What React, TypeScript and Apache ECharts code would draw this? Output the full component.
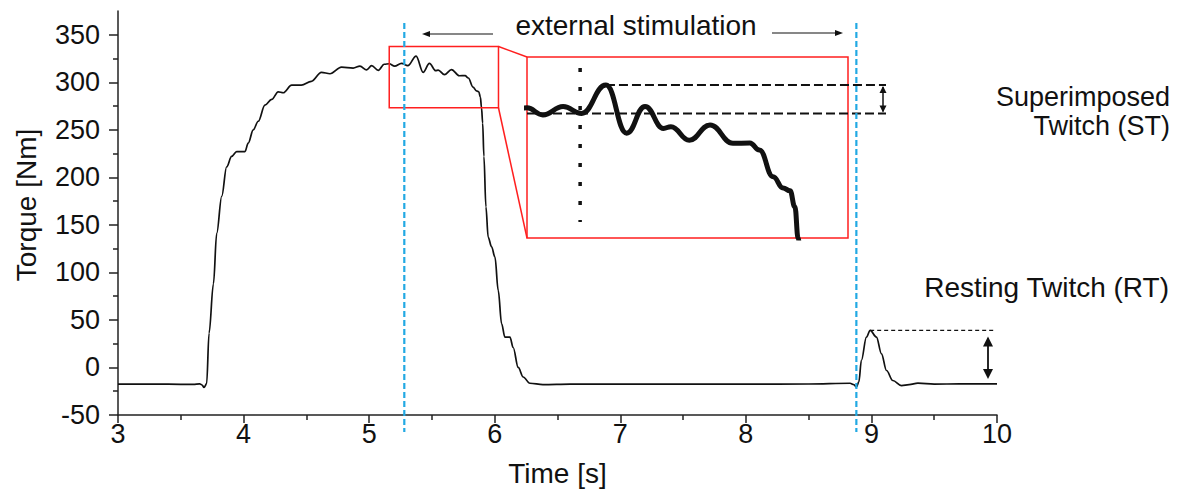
import React, { useEffect, useRef } from 'react';
import * as echarts from 'echarts';

// ---- data ----
const timeS = [
  3.0, 3.2, 3.4, 3.6, 3.65, 3.67, 3.685, 3.706, 3.725, 3.76, 3.786, 3.826, 3.865, 3.905, 3.945,
  4.011, 4.037, 4.077, 4.117, 4.17, 4.224, 4.276, 4.316, 4.383, 4.46, 4.54, 4.62, 4.688, 4.78,
  4.873, 4.927, 4.98, 5.02, 5.073, 5.12, 5.16, 5.203, 5.258, 5.308, 5.374, 5.43, 5.48, 5.53,
  5.55, 5.6, 5.656, 5.718, 5.764, 5.79, 5.827, 5.854, 5.873, 5.886, 5.895, 5.904, 5.914, 5.93,
  5.948, 5.975, 6.002, 6.028, 6.055, 6.081, 6.121, 6.147, 6.187, 6.227, 6.28, 6.384, 6.6, 7.0,
  7.5, 8.0, 8.5, 8.83, 8.86, 8.88, 8.9, 8.92, 8.96, 8.99, 9.04, 9.08, 9.12, 9.17, 9.24, 9.3,
  9.37, 9.5, 9.7, 10.0,
];
const torqueNm = [
  -17.5, -17.6, -17.6, -17.8, -17.2, -18.5, -21, -17, 36, 88, 141, 180, 211, 222, 227,
  227, 236, 250, 259, 276, 282, 290, 289, 297, 297, 301, 310.5, 309, 316,
  315, 317, 313, 317.5, 312.5, 319, 319.5, 317, 320, 317.5, 327.6, 310.5, 320, 312.2,
  312.8, 308, 313.4, 306.9, 307, 304.5, 295, 291, 290, 284.3, 273, 257, 222, 169,
  137, 127, 116, 81, 46, 32, 32, 21, 0, -10, -16.6, -18, -17.5, -17.5,
  -17.6, -17.5, -17.4, -16.6, -18, -20.8, -15, 7.4, 32, 39, 32, 14.4, -3.2, -13.7, -19, -18,
  -16.5, -17.5, -17.3, -17.3,
];
const yMajorTicks = [-50, 0, 50, 100, 150, 200, 250, 300, 350];
const yMinorTicks = [-25, 25, 75, 125, 175, 225, 275, 325];
const stimulationTimes = [5.28, 8.88];
const zoomTime = [5.16, 6.03];
const zoomTorque = [273.2, 337.6];
const stPeak = [5.374, 327.6];
const stBase = [5.308, 317.5];
const rtPeak = [8.99, 39];
const rtBase = -17.3;
const insetMarkerTime = 5.304;
const insetMarkerRange = [278.9, 333.7];

const INK = '#111';
const RED = '#ff1f1f';
const BLUE = '#22a9e3';
const FONT = 'Liberation Sans, Arial, sans-serif';

function arrowHead(tipX: number, tipY: number, dx: number, dy: number, len: number, half: number) {
  const bx = tipX - dx * len;
  const by = tipY - dy * len;
  const px = -dy, py = dx;
  return {
    type: 'polygon',
    shape: { points: [[tipX, tipY], [bx + px * half, by + py * half], [bx - px * half, by - py * half]] },
    style: { fill: INK },
    z: 20,
  };
}

export default function App() {
  const ref = useRef<HTMLDivElement>(null);
  useEffect(() => {
    if (!ref.current) return;
    const chart = echarts.init(ref.current, null, { renderer: 'svg' });
    const data = timeS.map((t, i) => [t, torqueNm[i]]);
    const axisLine = { show: true, lineStyle: { color: '#222', width: 1.5 } };
    chart.setOption({
      animation: false,
      textStyle: { fontFamily: FONT },
      grid: [
        { left: 118, right: 181, top: 11, bottom: 78, show: false },
        { left: 527, top: 57, width: 321, height: 181, show: true, borderColor: RED, borderWidth: 1.5, backgroundColor: '#fff', z: 5 },
      ],
      xAxis: [
        {
          gridIndex: 0, type: 'value', min: 3, max: 10, interval: 1,
          axisLine: { ...axisLine, onZero: false },
          axisTick: { show: true, inside: false, length: 8, lineStyle: { color: '#222', width: 1.5 } },
          minorTick: { show: true, splitNumber: 2, length: 5, lineStyle: { color: '#222', width: 1.5 } },
          splitLine: { show: false },
          axisLabel: { fontSize: 27, color: INK, margin: 5, fontFamily: FONT },
          name: 'Time [s]', nameLocation: 'middle', nameGap: 44,
          nameTextStyle: { fontSize: 28, color: INK, fontFamily: FONT },
        },
        {
          gridIndex: 1, type: 'value', min: zoomTime[0], max: zoomTime[1], show: false,
          splitLine: { show: false },
        },
      ],
      yAxis: [
        {
          gridIndex: 0, type: 'value', min: -50, max: 375,
          axisLine: { ...axisLine, onZero: false },
          axisTick: { show: true, length: 9, customValues: yMajorTicks, lineStyle: { color: '#222', width: 1.5 } },
          axisLabel: { fontSize: 27, color: INK, margin: 18, customValues: yMajorTicks, fontFamily: FONT },
          splitLine: { show: false },
          name: 'Torque [Nm]', nameLocation: 'middle', nameGap: 78,
          nameTextStyle: { fontSize: 28, color: INK, fontFamily: FONT, padding: [0, 0, 0, 16] },
        },
        {
          gridIndex: 0, type: 'value', min: -50, max: 375, position: 'left',
          axisLine: { show: false },
          axisTick: { show: true, length: 5, customValues: yMinorTicks, lineStyle: { color: '#222', width: 1.5 } },
          axisLabel: { show: false },
          splitLine: { show: false },
        },
        {
          gridIndex: 1, type: 'value', min: zoomTorque[0], max: zoomTorque[1], show: false,
          splitLine: { show: false },
        },
      ],
      series: [
        {
          type: 'line', xAxisIndex: 0, yAxisIndex: 0, data, showSymbol: false,
          smooth: 0.35, smoothMonotone: 'x',
          lineStyle: { color: INK, width: 1.7 }, z: 3,
        },
        {
          type: 'line', xAxisIndex: 1, yAxisIndex: 2, data, showSymbol: false, clip: true,
          smooth: 0.45, smoothMonotone: 'x',
          lineStyle: { color: INK, width: 5 }, z: 6,
        },
      ],
    });

    const p = (x: number, y: number) => chart.convertToPixel({ xAxisIndex: 0, yAxisIndex: 0 }, [x, y]) as number[];
    const q = (x: number, y: number) => chart.convertToPixel({ xAxisIndex: 1, yAxisIndex: 2 }, [x, y]) as number[];

    const g: any[] = [];
    stimulationTimes.forEach((t) => {
      const x = p(t, 0)[0];
      g.push({ type: 'line', shape: { x1: x, y1: 23, x2: x, y2: 432 }, style: { stroke: BLUE, lineWidth: 2.2, lineDash: [6, 3] }, z: 30 });
    });
    const a = p(zoomTime[0], zoomTorque[1]);
    const b = p(zoomTime[1], zoomTorque[0]);
    g.push({ type: 'rect', shape: { x: a[0], y: a[1], width: b[0] - a[0], height: b[1] - a[1] }, style: { fill: 'none', stroke: RED, lineWidth: 1.5 }, z: 25 });
    const ia = q(zoomTime[0], zoomTorque[1]);
    const ib = q(zoomTime[0], zoomTorque[0]);
    g.push({ type: 'line', shape: { x1: b[0], y1: a[1], x2: ia[0], y2: ia[1] }, style: { stroke: RED, lineWidth: 1.5 }, z: 25 });
    g.push({ type: 'line', shape: { x1: b[0], y1: b[1], x2: ib[0], y2: ib[1] }, style: { stroke: RED, lineWidth: 1.5 }, z: 25 });
    const m1 = q(insetMarkerTime, insetMarkerRange[1]);
    const m2 = q(insetMarkerTime, insetMarkerRange[0]);
    g.push({ type: 'line', shape: { x1: m1[0], y1: m1[1], x2: m2[0], y2: m2[1] }, style: { stroke: INK, lineWidth: 3.5, lineDash: [4, 15] }, z: 26 });
    const stRight = 886;
    const sp = q(stPeak[0], stPeak[1]);
    const sb = q(zoomTime[0], stBase[1]);
    g.push({ type: 'line', shape: { x1: sp[0], y1: sp[1], x2: stRight, y2: sp[1] }, style: { stroke: INK, lineWidth: 2, lineDash: [9, 4] }, z: 26 });
    g.push({ type: 'line', shape: { x1: sb[0], y1: sb[1], x2: stRight, y2: sb[1] }, style: { stroke: INK, lineWidth: 2, lineDash: [9, 4] }, z: 26 });
    const stx = 883;
    g.push({ type: 'line', shape: { x1: stx, y1: sp[1] + 2, x2: stx, y2: sb[1] - 2 }, style: { stroke: INK, lineWidth: 1.5 }, z: 26 });
    g.push(arrowHead(stx, sp[1] + 1, 0, -1, 7, 3.5));
    g.push(arrowHead(stx, sb[1] - 1, 0, 1, 7, 3.5));
    const rp = p(rtPeak[0], rtPeak[1]);
    const rb = p(rtPeak[0], rtBase);
    g.push({ type: 'line', shape: { x1: rp[0], y1: rp[1], x2: 995, y2: rp[1] }, style: { stroke: INK, lineWidth: 1.2, lineDash: [4, 3] }, z: 26 });
    const rtx = 988;
    g.push({ type: 'line', shape: { x1: rtx, y1: rp[1] + 8, x2: rtx, y2: rb[1] - 8 }, style: { stroke: INK, lineWidth: 1.8 }, z: 26 });
    g.push(arrowHead(rtx, rp[1] + 6, 0, -1, 10, 5));
    g.push(arrowHead(rtx, rb[1] - 5, 0, 1, 10, 5));
    g.push({ type: 'line', shape: { x1: 493, y1: 34, x2: 428, y2: 34 }, style: { stroke: INK, lineWidth: 1.2 }, z: 26 });
    g.push(arrowHead(422, 34, -1, 0, 8, 3));
    g.push({ type: 'line', shape: { x1: 772, y1: 33, x2: 836, y2: 33 }, style: { stroke: INK, lineWidth: 1.2 }, z: 26 });
    g.push(arrowHead(843, 33, 1, 0, 8, 3));
    const txt = (s: string, x: number, y: number, align: string, size = 28) => ({
      type: 'text', x, y, z: 30,
      style: { text: s, fontSize: size, fontFamily: FONT, fill: INK, textAlign: align, textVerticalAlign: 'middle' },
    });
    g.push(txt('external stimulation', 636, 25, 'center'));
    g.push(txt('Superimposed', 1170, 97, 'right', 27));
    g.push(txt('Twitch (ST)', 1170, 126, 'right', 27));
    g.push(txt('Resting Twitch (RT)', 1169, 287, 'right'));

    chart.setOption({ graphic: { elements: g } });
    return () => chart.dispose();
  }, []);
  return (
    <div
      ref={ref}
      style={{ position: 'fixed', left: 0, top: 0, width: 1178, height: 493, background: '#fff' }}
    />
  );
}
